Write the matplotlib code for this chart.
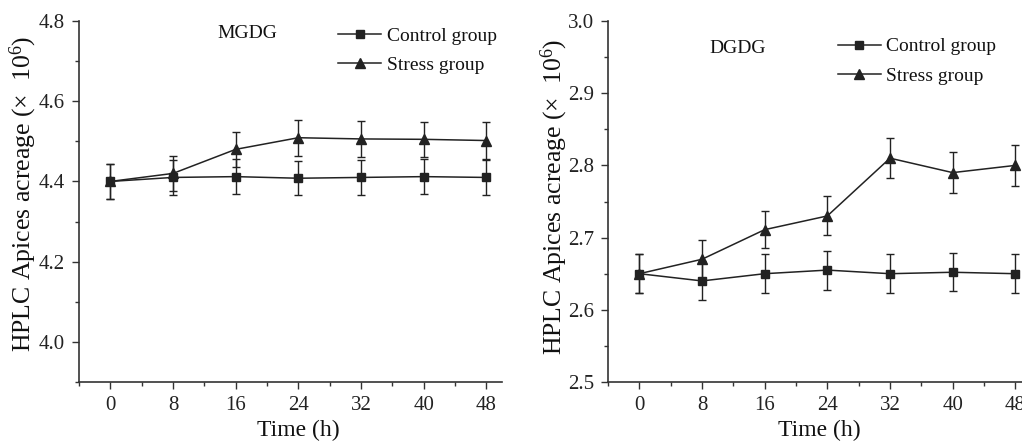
import matplotlib
matplotlib.use("Agg")
import matplotlib.pyplot as plt
from matplotlib.ticker import MultipleLocator

plt.rcParams['font.family'] = ['Liberation Serif', 'DejaVu Serif']
plt.rcParams['mathtext.fontset'] = 'custom'
plt.rcParams['mathtext.rm'] = 'Liberation Serif'
plt.rcParams['mathtext.it'] = 'Liberation Serif'

time_h = [0, 8, 16, 24, 32, 40, 48]

mgdg_control = [4.400, 4.410, 4.412, 4.408, 4.410, 4.412, 4.410]
mgdg_control_err = [0.044, 0.043, 0.044, 0.043, 0.043, 0.044, 0.043]
mgdg_stress = [4.400, 4.420, 4.480, 4.509, 4.506, 4.505, 4.502]
mgdg_stress_err = [0.044, 0.043, 0.044, 0.045, 0.044, 0.044, 0.045]

dgdg_control = [2.650, 2.640, 2.650, 2.655, 2.650, 2.652, 2.650]
dgdg_control_err = [0.027, 0.027, 0.027, 0.027, 0.027, 0.026, 0.027]
dgdg_stress = [2.650, 2.670, 2.711, 2.730, 2.810, 2.790, 2.800]
dgdg_stress_err = [0.027, 0.026, 0.026, 0.027, 0.028, 0.028, 0.028]

ylabel = "HPLC Apices acreage (×  10$^{6}$)"
col = '#222222'
W, H = 1022, 443

fig = plt.figure(figsize=(10.22, 4.43), dpi=100)
ax1 = fig.add_axes([79/W, 1-382/H, 423/W, (382-21)/H])
ax2 = fig.add_axes([608/W, 1-382/H, 423/W, (382-21)/H])

def draw(ax, ctrl, cerr, strs, serr, ylim, major, minor, title, tpos, legpos, ylab_px):
    c = ax.errorbar(time_h, ctrl, yerr=cerr, color=col, marker='s', ms=5.5, lw=1.1,
                    elinewidth=1.0, capsize=3, capthick=1.0)
    s = ax.errorbar(time_h, strs, yerr=serr, color=col, marker='^', ms=7, lw=1.1,
                    elinewidth=1.0, capsize=3, capthick=1.0)
    ax.set_xlim(-4, 50)
    ax.set_ylim(*ylim)
    ax.set_xticks(time_h)
    ax.xaxis.set_minor_locator(MultipleLocator(4))
    ax.yaxis.set_major_locator(MultipleLocator(major))
    ax.yaxis.set_minor_locator(MultipleLocator(minor))
    for sp in ['top', 'right']:
        ax.spines[sp].set_visible(False)
    for sp in ['left', 'bottom']:
        ax.spines[sp].set_color('#333333')
        ax.spines[sp].set_linewidth(1.2)
    ax.tick_params(which='major', direction='out', length=5, width=1, labelsize=15,
                   colors='#333333', labelcolor='#222222', pad=5)
    ax.tick_params(which='minor', direction='out', length=3, width=1, colors='#333333')
    ax.set_xlabel('Time (h)', fontsize=17, color='#111111')
    ax.set_ylabel(ylabel, fontsize=18.5, color='#111111')
    # label positions in figure pixels converted to axes coords
    bb = ax.get_position()
    ax.xaxis.set_label_coords(((ylab_px[2]/W) - bb.x0) / bb.width, ((H - 430)/H - bb.y0) / bb.height)
    ax.xaxis.label.set_va('center')
    ax.yaxis.set_label_coords(((ylab_px[0]/W) - bb.x0) / bb.width, (((H - ylab_px[1])/H) - bb.y0) / bb.height)
    ax.yaxis.label.set_va('center')
    ax.text(tpos[0], tpos[1], title, transform=ax.transAxes, fontsize=14, ha='center',
            va='center', color='#111111')
    leg = ax.legend([c[0], s[0]], ['Control group', 'Stress group'], loc='upper left',
                    bbox_to_anchor=legpos, frameon=False, fontsize=14,
                    handlelength=2.2, handletextpad=0.3, labelspacing=0.6, borderaxespad=0)
    for t in leg.get_texts():
        t.set_color('#111111')

draw(ax1, mgdg_control, mgdg_control_err, mgdg_stress, mgdg_stress_err,
     (3.9, 4.8), 0.2, 0.1, 'MGDG', (0.397, 0.965), (0.595, 1.005), (23, 194, 298))
ax1.set_yticks([4.0, 4.2, 4.4, 4.6, 4.8])
draw(ax2, dgdg_control, dgdg_control_err, dgdg_stress, dgdg_stress_err,
     (2.5, 3.0), 0.1, 0.05, 'DGDG', (0.306, 0.925), (0.525, 0.975), (554, 197, 819))

fig.savefig('out.png', dpi=100)
